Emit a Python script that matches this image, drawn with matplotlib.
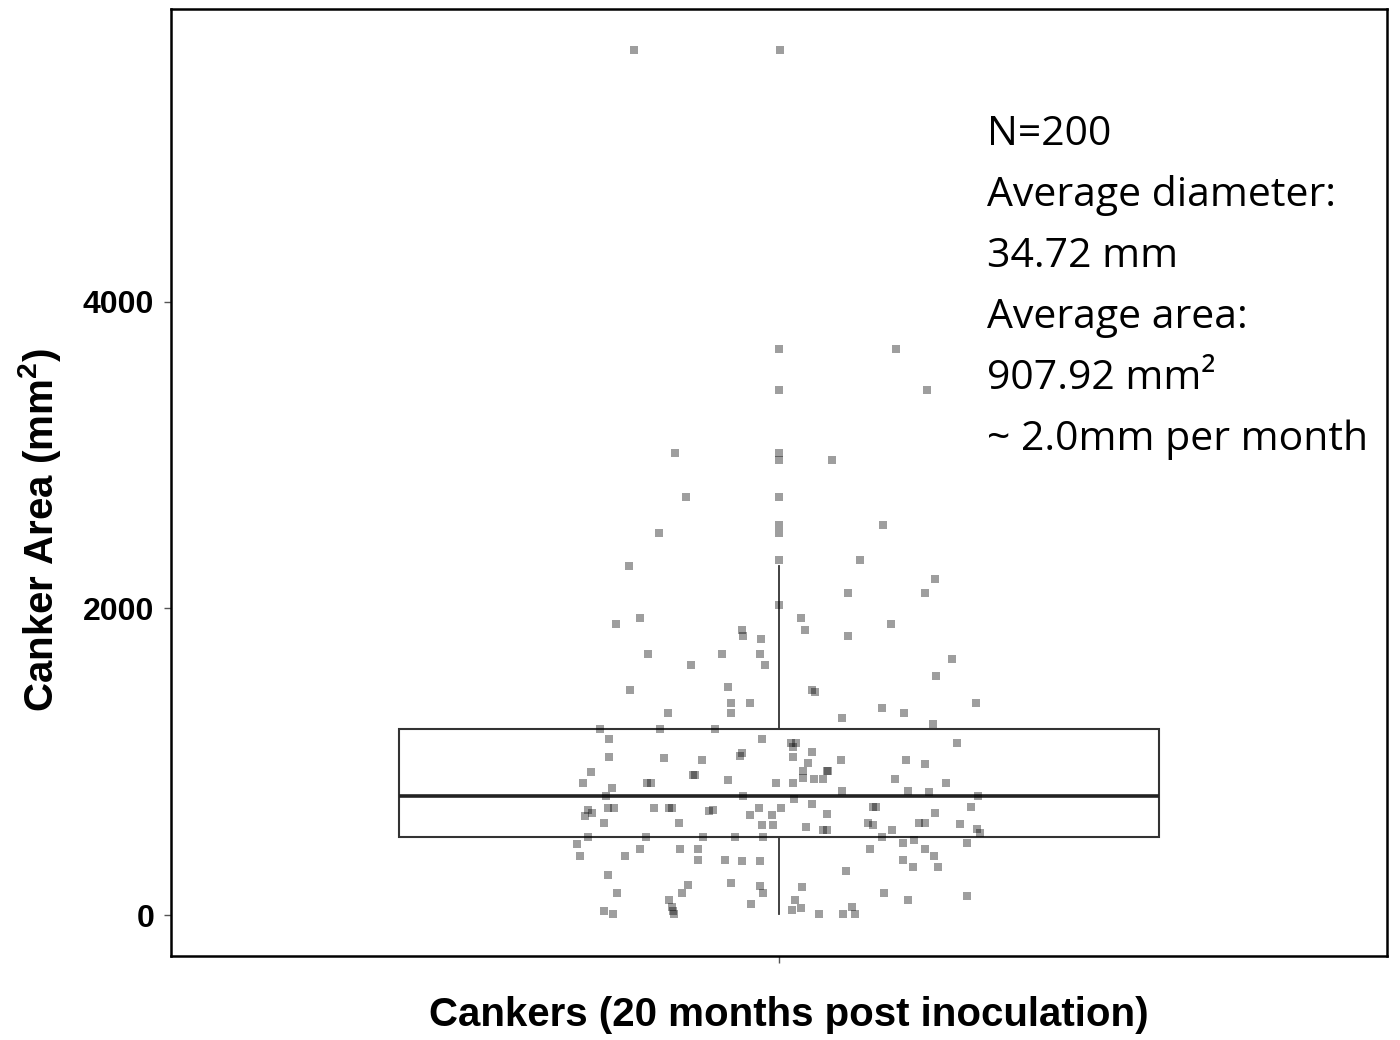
import matplotlib
matplotlib.use("Agg")
import matplotlib.pyplot as plt

# Canker area measurements (mm^2) and their horizontal jitter offsets
areas = [
    5640, 5640,
    3694, 3694, 3425, 3425, 3014, 3014, 2966, 2966, 2725, 2725, 2545, 2493, 2493,
    2541, 2317, 2317, 2274,
    2024, 1900, 1940, 1861, 1822, 1800, 1705, 1705, 1705, 1631, 1631, 1468, 1487,
    1383, 1383, 1316, 1316, 1216, 1216, 1216, 1151, 1151, 1031, 1025, 1010, 1057, 1038,
    930, 858, 829, 858, 858, 912, 912, 880, 858, 777, 777, 684, 666, 645, 699, 699,
    699, 699, 699, 678, 686, 699, 652, 652, 699, 601, 601, 586, 586, 510, 510, 510,
    510, 510, 463, 386, 386, 428, 428, 428, 356, 360, 352, 352, 259, 145, 193, 145,
    210, 189, 145, 98, 50, 28, 7, 26, 8, 70,
    2189, 2102, 2102, 1940, 1859, 1822, 1900, 1668, 1559, 1466, 1453, 1383, 1349,
    1316, 1283, 1249, 1123, 1123, 1123, 1097, 1060, 1031, 1014, 1014,
    992, 988, 940, 893, 940, 940, 886, 886, 858, 886, 858, 756, 808, 808, 803, 777,
    721, 656, 702, 702, 666, 702, 575, 554, 554, 601, 590, 554, 601, 601, 593, 558,
    536, 510, 467, 489, 467, 428, 428, 386, 356, 311, 311, 289, 180, 96, 35, 48,
    7, 7, 50, 7, 145, 96, 124,
]
jitter = [
    -0.143, 0.001,
    0.0, 0.115, 0.0, 0.146, -0.103, 0.0, 0.0, 0.052, -0.092, 0.0, 0.0, 0.0, -0.118,
    0.103, 0.0, 0.080, -0.148,
    0.0, -0.161, -0.137, -0.037, -0.036, -0.018, -0.129, -0.056, -0.019, -0.087, -0.014,
    -0.147, -0.050, -0.047, -0.029, -0.047, -0.110, -0.177, -0.117, -0.063, -0.168,
    -0.017, -0.168, -0.113, -0.076, -0.037, -0.038,
    -0.186, -0.193, -0.165, -0.130, -0.126, -0.085, -0.083, -0.050, -0.003, -0.171,
    -0.036, -0.188, -0.185, -0.191, -0.169, -0.163, -0.123, -0.109, -0.106, -0.069,
    -0.065, -0.020, -0.029, -0.007, 0.002, -0.173, -0.099, -0.017, -0.006, -0.188,
    -0.131, -0.075, -0.043, -0.016, -0.199, -0.196, -0.152, -0.137, -0.098, -0.080,
    -0.080, -0.053, -0.037, -0.019, -0.169, -0.160, -0.090, -0.096, -0.047, -0.019,
    -0.016, -0.109, -0.106, -0.105, -0.104, -0.173, -0.164, -0.028,
    0.154, 0.144, 0.068, 0.022, 0.026, 0.068, 0.111, 0.171, 0.155, 0.033, 0.036,
    0.194, 0.102, 0.123, 0.062, 0.152, 0.176, 0.012, 0.017, 0.014, 0.033, 0.014,
    0.061, 0.125,
    0.029, 0.144, 0.024, 0.024, 0.047, 0.048, 0.035, 0.043, 0.014, 0.114, 0.165,
    0.015, 0.062, 0.127, 0.148, 0.196, 0.033, 0.047, 0.093, 0.096, 0.154, 0.189,
    0.027, 0.043, 0.047, 0.088, 0.093, 0.112, 0.138, 0.144, 0.179, 0.195, 0.198,
    0.102, 0.122, 0.133, 0.186, 0.090, 0.144, 0.153, 0.122, 0.132, 0.157, 0.066,
    0.023, 0.016, 0.013, 0.022, 0.039, 0.063, 0.072, 0.075, 0.104, 0.127, 0.186,
]

# Box summary statistics for the full sample (n = 200)
q1, median, q3 = 508, 777, 1216
whisker_low, whisker_high = 7, 2274

y_ticks = [0, 2000, 4000]
x_title = "Cankers (20 months post inoculation)"
y_title = "Canker Area (mm$^{2}$)"
summary_lines = [
    "N=200",
    "Average diameter:",
    "34.72 mm",
    "Average area:",
    "907.92 mm\u00b2",
    "~ 2.0mm per month",
]

plt.rcParams["font.family"] = ["Liberation Sans", "DejaVu Sans"]
plt.rcParams["mathtext.fontset"] = "custom"
plt.rcParams["mathtext.rm"] = "Liberation Sans:bold"
plt.rcParams["mathtext.it"] = "Liberation Sans:bold"
plt.rcParams["mathtext.bf"] = "Liberation Sans:bold"

fig = plt.figure(figsize=(14, 10.4), dpi=100)
ax = fig.add_axes([171 / 1400, 1 - 956 / 1040, (1387 - 171) / 1400, (956 - 9) / 1040])

stats = [dict(med=median, q1=q1, q3=q3, whislo=whisker_low, whishi=whisker_high, fliers=[])]
ax.bxp(stats, positions=[1], widths=0.75, showfliers=False, showcaps=False,
       patch_artist=True,
       boxprops=dict(facecolor="white", edgecolor="#333333", linewidth=1.5),
       medianprops=dict(color="#222222", linewidth=2.6),
       whiskerprops=dict(color="#333333", linewidth=1.3),
       zorder=2)

ax.scatter([1 + j for j in jitter], areas, s=40, color="black", alpha=0.38,
           linewidths=0, marker="s", zorder=3)

ax.set_xlim(0.4, 1.6)
ax.set_ylim(-267, 5908)
ax.set_xticks([1])
ax.set_xticklabels([""])
ax.set_yticks(y_ticks)
ax.set_yticklabels([str(t) for t in y_ticks], fontsize=23, fontweight="bold")
ax.tick_params(axis="both", length=5, width=1, color="#555555", pad=7)

for side in ax.spines.values():
    side.set_linewidth(1.8)
    side.set_color("black")

ax.set_xlabel(x_title, fontsize=29, fontweight="bold", va="center")
ax.xaxis.set_label_coords(0.508, -0.062)
ax.set_ylabel(y_title, fontsize=29, fontweight="bold", va="center")
ax.yaxis.set_label_coords(-0.108, 0.45)

baseline0 = 145
step = 61
for i, line in enumerate(summary_lines):
    fig.text(987 / 1400, 1 - (baseline0 + i * step) / 1040, line,
             fontsize=29.5, family=["Open Sans", "DejaVu Sans"],
             ha="left", va="baseline", color="black")

fig.savefig("out.png", dpi=100, facecolor="white")
